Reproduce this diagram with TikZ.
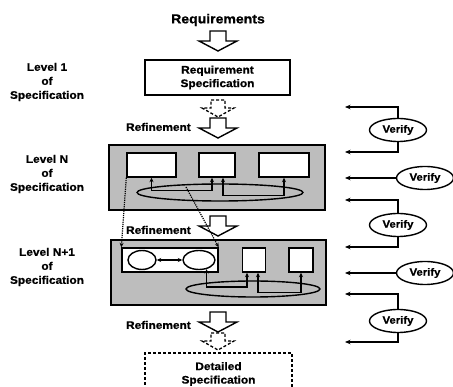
\documentclass[tikz,border=0pt]{standalone}
\usepackage{fontspec}
\setmainfont{Liberation Sans}[FakeStretch=1.08, BoldFeatures={FakeBold=0.8}]
\usetikzlibrary{shapes.geometric,arrows.meta}
\begin{document}
\begin{tikzpicture}[x=1pt,y=-1pt,
  txt/.style={font=\fontsize{11}{13.5}\selectfont\bfseries, align=center, inner sep=0pt},
  lvl/.style={txt, font=\fontsize{11}{14}\selectfont\bfseries},
  shade/.style={draw, line width=1.4pt, fill=black!26, inner sep=0pt},
  wbox/.style={draw, line width=1.4pt, fill=white, inner sep=0pt},
  oval/.style={ellipse, draw, line width=1.4pt, inner sep=0pt},
  link/.style={line width=1.2pt, {Stealth[length=4.5pt,width=4pt]}-{Stealth[length=4.5pt,width=4pt]}},
  dlink/.style={line width=1.2pt, densely dotted, -{Stealth[length=4.5pt,width=4pt]}},
  vlink/.style={line width=1.3pt, -{Stealth[length=5.5pt,width=4.5pt]}},
  vfy/.style={oval, minimum width=57pt, minimum height=23pt, font=\fontsize{10.5}{12}\selectfont\bfseries},
  blockarr/.pic={\draw[line width=1.4pt, fill=white, pic actions] (-8,0) -- (8,0) -- (8,10) -- (19,10) -- (0,20) -- (-19,10) -- (-8,10) -- cycle;},
  ghostarr/.pic={\draw[line width=1.3pt, densely dashed, pic actions] (-7,0) -- (7,0) -- (7,8) -- (16,8) -- (0,17) -- (-16,8) -- (-7,8) -- cycle;}
]
\clip (0,0) rectangle (453,387);

% top
\node[txt, font=\fontsize{13}{15}\selectfont\bfseries] (reqs) at (218,20) {Requirements};
\pic at (218,31) {blockarr};
\node[wbox, txt, minimum width=145pt, minimum height=35pt] (req) at (217.5,77.5) {Requirement\\Specification};
\pic at (218,100) {ghostarr};
\pic at (218,118) {blockarr};
\node[txt, anchor=east] (rf1) at (191,127) {Refinement};

% left labels
\node[lvl] (l1) at (47,82) {Level 1\\of\\Specification};
\node[lvl] (lN) at (47,174) {Level N\\of\\Specification};
\node[lvl] (lN1) at (47,267) {Level N+1\\of\\Specification};

% Level N
\node[shade, minimum width=216pt, minimum height=65pt] (lvN) at (217,177.5) {};
\node[oval, minimum width=166pt, minimum height=17pt] (eN) at (220,192.5) {};
\node[wbox, minimum width=49pt, minimum height=24pt] (b1) at (151.5,165) {};
\node[wbox, minimum width=36pt, minimum height=24pt] (b2) at (217,165) {};
\node[wbox, minimum width=50pt, minimum height=24pt] (b3) at (284,165) {};
\draw[link] (b1.south) -- ++(0,13) -| ([xshift=-5pt]b2.south);
\draw[link] ([xshift=6pt]b2.south) -- ++(0,18) -| (b3.south);

% refinement N -> N+1
\pic at (218,216) {blockarr};
\node[txt, anchor=east] (rf2) at (191,230) {Refinement};

% Level N+1
\node[shade, minimum width=215pt, minimum height=65pt] (lvN1) at (218.5,272.5) {};
\node[oval, minimum width=134pt, minimum height=16pt] (eN1) at (253,289) {};
\node[wbox, minimum width=96pt, minimum height=24pt] (r) at (170,260) {};
\node[oval, fill=white, minimum width=28pt, minimum height=19pt] (e1) at (142,260) {};
\node[oval, fill=white, minimum width=32pt, minimum height=19pt] (e2) at (199,260) {};
\draw[link] (e1.east) -- (e2.west);
\node[wbox, minimum width=23pt, minimum height=24pt] (s1) at (254,260) {};
\node[wbox, minimum width=24pt, minimum height=24pt] (s2) at (301,260) {};
\draw[link] (e2.-50) -- ++(0,18) -| ([xshift=-7pt]s1.south);
\draw[link] ([xshift=4pt]s1.south) -- ++(0,20) -| (s2.south);

% dotted refinement links
\coordinate (dstart) at (186,187);
\draw[dlink] (b1.south west) -- (r.north west);
\draw[dlink] (dstart) -- (r.north east);

% refinement N+1 -> detailed
\pic at (218,312) {blockarr};
\node[txt, anchor=east] (rf3) at (191,325) {Refinement};
\pic at (218,333) {ghostarr};
\node[txt, draw, line width=1.3pt, densely dashed, minimum width=147pt, minimum height=42pt] (det) at (218.5,374) {Detailed\\Specification};

% verify column
\node[vfy] (v1) at (398,130) {Verify};
\node[vfy] (v2) at (425,178) {Verify};
\node[vfy] (v3) at (398,225) {Verify};
\node[vfy] (v4) at (425,273) {Verify};
\node[vfy] (v5) at (398,321) {Verify};
\coordinate (p1a) at (345,107);
\coordinate (p1b) at (345,152);
\coordinate (p2) at (345,178);
\coordinate (p3a) at (345,200);
\coordinate (p3b) at (345,247);
\coordinate (p4) at (345,273);
\coordinate (p5a) at (345,294);
\coordinate (p5b) at (345,342);
\draw[vlink] (v1.north) |- (p1a);
\draw[vlink] (v1.south) |- (p1b);
\draw[vlink] (v2.west) -- (p2);
\draw[vlink] (v3.north) |- (p3a);
\draw[vlink] (v3.south) |- (p3b);
\draw[vlink] (v4.west) -- (p4);
\draw[vlink] (v5.north) |- (p5a);
\draw[vlink] (v5.south) |- (p5b);
\end{tikzpicture}
\end{document}
